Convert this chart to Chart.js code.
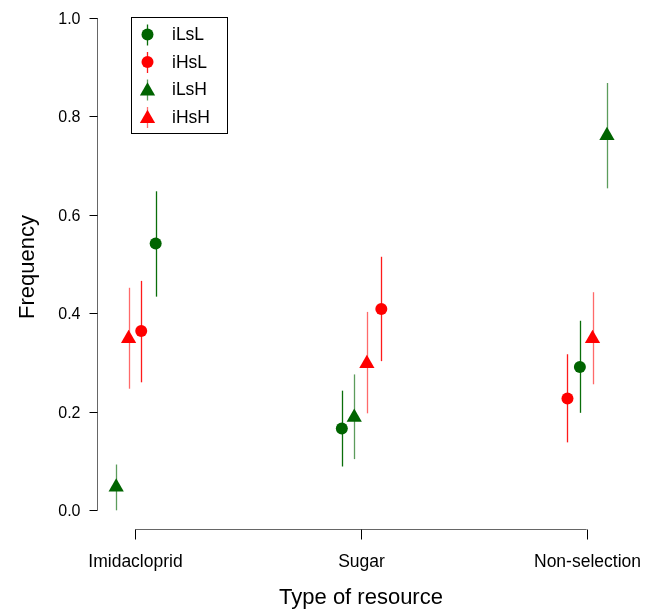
<!DOCTYPE html>
<html>
<head>
<meta charset="utf-8">
<script src="https://cdn.jsdelivr.net/npm/chart.js@4.4.1/dist/chart.umd.min.js"></script>
<style>
  body { margin: 0; background: #fff; }
  canvas { display: block; }
</style>
</head>
<body>
<canvas id="grafico" width="648" height="611"></canvas>
<script>
// categorias do eixo x
const categories = ['Imidacloprid', 'Sugar', 'Non-selection'];
const yTicks = [0.0, 0.2, 0.4, 0.6, 0.8, 1.0];

// frequencia media e intervalo
const iLsL_mean = [0.542, 0.166, 0.291];
const iLsL_low  = [0.434, 0.089, 0.198];
const iLsL_high = [0.648, 0.243, 0.385];

const iHsL_mean = [0.364, 0.409, 0.227];
const iHsL_low  = [0.260, 0.303, 0.138];
const iHsL_high = [0.466, 0.515, 0.317];

const iLsH_mean = [0.047, 0.189, 0.761];
const iLsH_low  = [0.000, 0.104, 0.654];
const iLsH_high = [0.093, 0.276, 0.868];

const iHsH_mean = [0.349, 0.298, 0.349];
const iHsH_low  = [0.247, 0.197, 0.256];
const iHsH_high = [0.452, 0.403, 0.443];

// deslocamento dos pontos dentro de cada grupo (ordenados pelo valor)
const dodge = [-0.085, -0.03, 0.026, 0.09];

const verde = '#006400';
const vermelho = '#ff0000';
const fonte = "'Liberation Sans', Arial, sans-serif";

const series = [
    { label: 'iLsL', mean: iLsL_mean, low: iLsL_low, high: iLsL_high, color: verde, bar: '#0a6e0a', style: 'circle', r: 6 },
    { label: 'iHsL', mean: iHsL_mean, low: iHsL_low, high: iHsL_high, color: vermelho, bar: '#ff1a1a', style: 'circle', r: 6 },
    { label: 'iLsH', mean: iLsH_mean, low: iLsH_low, high: iLsH_high, color: verde, bar: '#5c9c5c', style: 'triangle', r: 8.8 },
    { label: 'iHsH', mean: iHsH_mean, low: iHsH_low, high: iHsH_high, color: vermelho, bar: '#ff6a6a', style: 'triangle', r: 8.8 }
];

// posicao x de cada ponto: categoria + deslocamento conforme a ordem do valor
function posicaoX(s, i) {
    const ordem = series.map(o => o.mean[i]).slice().sort((a, b) => a - b);
    return i + dodge[ordem.indexOf(s.mean[i])];
}

const datasets = series.map(s => ({
    label: s.label,
    data: s.mean.map((v, i) => ({ x: posicaoX(s, i), y: v, low: s.low[i], high: s.high[i] })),
    backgroundColor: s.color,
    borderColor: s.color,
    pointStyle: s.style,
    pointRadius: s.r,
    pointHoverRadius: s.r,
    pointBorderWidth: 0,
    barColor: s.bar
}));

function desenhaMarca(ctx, style, r, x, y) {
    ctx.beginPath();
    if (style === 'circle') {
        ctx.arc(x, y, r, 0, Math.PI * 2);
    } else {
        ctx.moveTo(x, y - r);
        ctx.lineTo(x + r * Math.sin(Math.PI / 3), y + r / 2);
        ctx.lineTo(x - r * Math.sin(Math.PI / 3), y + r / 2);
        ctx.closePath();
    }
    ctx.fill();
}

// barras de erro, eixos no estilo R e legenda
const estiloR = {
    id: 'estiloR',
    beforeDatasetsDraw(chart) {
        const ctx = chart.ctx;
        const xs = chart.scales.x, ys = chart.scales.y;
        ctx.save();
        ctx.lineWidth = 1.3;
        chart.data.datasets.forEach(ds => {
            ctx.strokeStyle = ds.barColor;
            ds.data.forEach(p => {
                const px = Math.round(xs.getPixelForValue(p.x)) + 0.5;
                ctx.beginPath();
                ctx.moveTo(px, ys.getPixelForValue(p.low));
                ctx.lineTo(px, ys.getPixelForValue(p.high));
                ctx.stroke();
            });
        });
        ctx.restore();
    },
    afterDraw(chart) {
        const ctx = chart.ctx;
        const xs = chart.scales.x, ys = chart.scales.y;
        const area = chart.chartArea;
        ctx.save();
        ctx.lineWidth = 1;

        // eixo y
        const ax = Math.round(area.left) + 0.5;
        ctx.strokeStyle = '#666';
        ctx.beginPath();
        ctx.moveTo(ax, ys.getPixelForValue(yTicks[0]));
        ctx.lineTo(ax, ys.getPixelForValue(yTicks[yTicks.length - 1]));
        ctx.stroke();
        ctx.fillStyle = '#000';
        ctx.font = '16px ' + fonte;
        ctx.textAlign = 'right';
        ctx.textBaseline = 'middle';
        yTicks.forEach(t => {
            const py = Math.round(ys.getPixelForValue(t)) + 0.5;
            ctx.strokeStyle = '#000';
            ctx.beginPath();
            ctx.moveTo(ax - 8, py);
            ctx.lineTo(ax, py);
            ctx.stroke();
            ctx.fillText(t.toFixed(1), ax - 17, py + 1);
        });

        // eixo x
        const ay = Math.round(area.bottom) - 0.5;
        ctx.strokeStyle = '#666';
        ctx.beginPath();
        ctx.moveTo(xs.getPixelForValue(0), ay);
        ctx.lineTo(xs.getPixelForValue(categories.length - 1), ay);
        ctx.stroke();
        ctx.font = '17.5px ' + fonte;
        ctx.textAlign = 'center';
        ctx.textBaseline = 'alphabetic';
        categories.forEach((c, i) => {
            const px = Math.round(xs.getPixelForValue(i)) + 0.5;
            ctx.strokeStyle = '#000';
            ctx.beginPath();
            ctx.moveTo(px, ay);
            ctx.lineTo(px, ay + 10);
            ctx.stroke();
            ctx.fillText(c, px, ay + 37);
        });

        // titulos dos eixos
        ctx.font = '22px ' + fonte;
        ctx.textBaseline = 'middle';
        ctx.fillText('Type of resource', xs.getPixelForValue(1), 598);
        ctx.save();
        ctx.translate(28, 267);
        ctx.rotate(-Math.PI / 2);
        ctx.fillText('Frequency', 0, 0);
        ctx.restore();

        // legenda
        ctx.strokeStyle = '#000';
        ctx.strokeRect(131.5, 17.5, 96, 116);
        ctx.font = '17.5px ' + fonte;
        ctx.textAlign = 'left';
        chart.data.datasets.forEach((ds, k) => {
            const s = series[k];
            const ly = 34.5 + k * 27.5;
            ctx.strokeStyle = s.bar;
            ctx.lineWidth = 1.3;
            ctx.beginPath();
            ctx.moveTo(147.5, ly - 10);
            ctx.lineTo(147.5, ly + 11);
            ctx.stroke();
            ctx.fillStyle = s.color;
            desenhaMarca(ctx, s.style, s.r, 147.5, ly + (s.style === 'triangle' ? 1.5 : 0));
            ctx.fillStyle = '#000';
            ctx.fillText(ds.label, 172, ly + 1);
        });
        ctx.restore();
    }
};

const config = {
    type: 'scatter',
    data: { datasets: datasets },
    options: {
        responsive: false,
        animation: false,
        clip: false,
        layout: { padding: { left: 97, right: 23, top: 18, bottom: 81 } },
        scales: {
            x: { type: 'linear', min: -0.17, max: 2.17, display: false },
            y: { type: 'linear', min: -0.04, max: 1.0, display: false }
        },
        plugins: {
            legend: { display: false },
            tooltip: { enabled: false }
        }
    },
    plugins: [estiloR]
};

let grafico = new Chart(document.getElementById('grafico'), config);
</script>
</body>
</html>
